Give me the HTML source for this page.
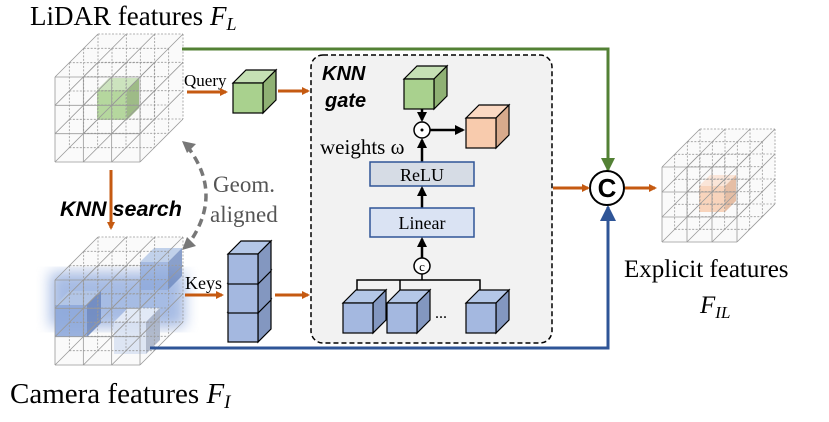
<!DOCTYPE html>
<html><head><meta charset="utf-8"><style>
html,body{margin:0;padding:0;background:#fff;}
svg{display:block;font-family:"Liberation Serif",serif;}
</style></head><body>
<svg id="s" width="829" height="422" viewBox="0 0 829 422" xmlns="http://www.w3.org/2000/svg">
<defs>
<marker id="ao" markerWidth="8" markerHeight="8" refX="6" refY="4" orient="auto" markerUnits="userSpaceOnUse"><path d="M0,0 L8,4 L0,8 z" fill="#c55a11"/></marker>
<marker id="ab" markerWidth="10" markerHeight="10" refX="8" refY="5" orient="auto" markerUnits="userSpaceOnUse"><path d="M0,0 L10,5 L0,10 z" fill="#000"/></marker>
<marker id="ag" markerWidth="14" markerHeight="14" refX="12" refY="7" orient="auto" markerUnits="userSpaceOnUse"><path d="M0,0 L14,7 L0,14 z" fill="#538135"/></marker>
<marker id="abl" markerWidth="16" markerHeight="16" refX="14" refY="8" orient="auto" markerUnits="userSpaceOnUse"><path d="M0,0 L16,8 L0,16 z" fill="#2f5597"/></marker>
<filter id="blur"><feGaussianBlur stdDeviation="7"/></filter>
</defs>
<g id="grids"></g>

<text x="30" y="25" font-size="27">LiDAR features <tspan font-style="italic">F</tspan><tspan font-style="italic" font-size="18" dy="5">L</tspan></text>
<text x="10" y="403" font-size="29">Camera features <tspan font-style="italic">F</tspan><tspan font-style="italic" font-size="19" dy="5">I</tspan></text>
<text x="624" y="277" font-size="25">Explicit features</text>
<text x="700" y="313" font-size="25" font-style="italic">F<tspan font-size="17" dy="5">IL</tspan></text>

<polyline points="182,49 608,49 608,170" fill="none" stroke="#538135" stroke-width="3" marker-end="url(#ag)"/>
<polyline points="150,348 608,348 608,207" fill="none" stroke="#2f5597" stroke-width="3" marker-end="url(#abl)"/>
<circle cx="607" cy="188" r="17" fill="#fff" stroke="#000" stroke-width="2"/>
<text x="607" y="197" font-size="26" text-anchor="middle" font-family="Liberation Sans,sans-serif" font-weight="bold">C</text>
<line x1="553" y1="188" x2="588" y2="188" stroke="#c55a11" stroke-width="3" marker-end="url(#ao)"/>
<line x1="625" y1="188" x2="655" y2="188" stroke="#c55a11" stroke-width="3" marker-end="url(#ao)"/>

<line x1="111" y1="170" x2="111" y2="228" stroke="#c55a11" stroke-width="3" marker-end="url(#ao)"/>
<text x="60" y="216" font-size="21.5" font-weight="bold" font-style="italic" font-family="Liberation Sans,sans-serif">KNN search</text>
<path d="M187,146 Q225,195 187,246" fill="none" stroke="#777" stroke-width="3.5" stroke-dasharray="8,5"/>
<path d="M182,141 l14,3 l-9,9z M182,250 l5,-13 l9,9z" fill="#777"/>
<text x="213" y="192" font-size="23" fill="#555">Geom.</text>
<text x="210" y="222" font-size="23" fill="#555">aligned</text>

<text x="184" y="86" font-size="17">Query</text>
<line x1="187" y1="92" x2="226" y2="92" stroke="#c55a11" stroke-width="3" marker-end="url(#ao)"/>
<g id="qc"></g>
<line x1="278" y1="91" x2="308" y2="91" stroke="#c55a11" stroke-width="3" marker-end="url(#ao)"/>

<text x="185" y="289" font-size="18">Keys</text>
<line x1="185" y1="295" x2="222" y2="295" stroke="#c55a11" stroke-width="3" marker-end="url(#ao)"/>
<line x1="275" y1="295" x2="308" y2="295" stroke="#c55a11" stroke-width="3" marker-end="url(#ao)"/>

<rect x="311" y="55" width="241" height="288" rx="12" fill="#f2f2f2" stroke="#000" stroke-width="1.5" stroke-dasharray="5,3"/>
<text x="322" y="80" font-size="20" font-weight="bold" font-style="italic" font-family="Liberation Sans,sans-serif">KNN</text>
<text x="325" y="107" font-size="20" font-weight="bold" font-style="italic" font-family="Liberation Sans,sans-serif">gate</text>
<line x1="422" y1="107" x2="422" y2="120" stroke="#000" stroke-width="2.5" marker-end="url(#ab)"/>
<circle cx="422" cy="130" r="8" fill="#fff" stroke="#000" stroke-width="1.5"/>
<circle cx="422" cy="130" r="1.5" fill="#000"/>
<line x1="430" y1="130" x2="463" y2="130" stroke="#000" stroke-width="2.5" marker-end="url(#ab)"/>
<text x="320" y="154" font-size="21">weights ω</text>
<line x1="422" y1="162" x2="422" y2="140" stroke="#000" stroke-width="2.5" marker-end="url(#ab)"/>
<rect x="370" y="162" width="104" height="24" fill="#d6dce5" stroke="#2f5597" stroke-width="1.5"/>
<text x="422" y="181" font-size="18" text-anchor="middle">ReLU</text>
<line x1="422" y1="208" x2="422" y2="188" stroke="#000" stroke-width="2.5" marker-end="url(#ab)"/>
<rect x="370" y="208" width="104" height="29" fill="#dae3f3" stroke="#2f5597" stroke-width="1.5"/>
<text x="422" y="229" font-size="18" text-anchor="middle">Linear</text>
<line x1="422" y1="258" x2="422" y2="239" stroke="#000" stroke-width="2.5" marker-end="url(#ab)"/>
<circle cx="422" cy="266" r="8" fill="#fff" stroke="#000" stroke-width="1.5"/>
<text x="422" y="271" font-size="13" text-anchor="middle">c</text>
<polyline points="357,292 357,280 480,280 480,292" fill="none" stroke="#000" stroke-width="1.5"/>
<line x1="400" y1="280" x2="400" y2="292" stroke="#000" stroke-width="1.5"/>
<line x1="422" y1="274" x2="422" y2="280" stroke="#000" stroke-width="1.5"/>
<text x="435" y="318" font-size="16">...</text>
<g id="cubes"></g>
</svg>
<script>
var NS="http://www.w3.org/2000/svg";
function el(p,t,a){var e=document.createElementNS(NS,t);for(var k in a)e.setAttribute(k,a[k]);p.appendChild(e);return e;}
function cube(p,x,y,s,d,f,fs,ft,sw,op){
 var g=el(p,'g',{opacity:op||1});
 el(g,'polygon',{points:[x,y,x+d,y-d,x+s+d,y-d,x+s,y].join(','),fill:ft,stroke:'#000','stroke-width':sw});
 el(g,'polygon',{points:[x+s,y,x+s+d,y-d,x+s+d,y+s-d,x+s,y+s].join(','),fill:fs,stroke:'#000','stroke-width':sw});
 el(g,'rect',{x:x,y:y,width:s,height:s,fill:f,stroke:'#000','stroke-width':sw});
}
function grid(p,x,y,S,D,inner){
 var g=el(p,'g',{fill:'none'});
 el(g,'polygon',{points:[x,y,x+D,y-D,x+S+D,y-D,x+S+D,y+S-D,x+S,y+S,x,y+S].join(','),fill:'#fafafa',stroke:'none'});
 if(inner)inner(g);
 var c=S/3,dd=D/3;
 for(var k=3;k>=0;k--){
  var ox=x+k*dd,oy=y-k*dd,dash=k==0?'none':'2,1.5';
  for(var i=0;i<=3;i++){
   el(g,'line',{x1:ox+i*c,y1:oy,x2:ox+i*c,y2:oy+S,stroke:'#999','stroke-width':0.8,'stroke-dasharray':dash});
   el(g,'line',{x1:ox,y1:oy+i*c,x2:ox+S,y2:oy+i*c,stroke:'#999','stroke-width':0.8,'stroke-dasharray':dash});
  }
 }
 for(var i=0;i<=3;i++)for(var j=0;j<=3;j++){
  el(g,'line',{x1:x+i*c,y1:y+j*c,x2:x+i*c+D,y2:y+j*c-D,stroke:'#999','stroke-width':0.8});
 }
}
var G=document.getElementById('grids');
grid(G,55,77,85,43,function(g){cube(g,97,90,30,12,'#a9d18e','#8fb174','#c5e0b4',0,0.85);});
grid(G,55,280,85,43,function(g){
 el(g,'rect',{x:50,y:272,width:135,height:55,fill:'#6f93d6',filter:'url(#blur)',opacity:0.6});
 cube(g,55,305,32,14,'#8faadc','#6f8ac0','#b4c7e7',0,0.9);
 cube(g,140,262,28,14,'#8faadc','#6f8ac0','#b4c7e7',0,0.8);
 cube(g,114,322,32,14,'#dae3f3','#aab4c8','#e8eef8',0,0.9);
});
grid(G,662,167,75,38,function(g){cube(g,699,186,26,11,'#f8cbad','#e0b090','#fbe0d0',0,0.8);});
var Q=document.getElementById('qc');
cube(Q,233,83,30,13,'#a9d18e','#8fb174','#c5e0b4',1.2);
var C=document.getElementById('cubes');
cube(C,228,312,30,13,'#a4b8e0','#8397c0','#b4c7e7',1.2);
cube(C,228,283,30,13,'#a4b8e0','#8397c0','#b4c7e7',1.2);
cube(C,228,254,30,13,'#a4b8e0','#8397c0','#b4c7e7',1.2);
cube(C,404,79,30,13,'#a9d18e','#8fb174','#c5e0b4',1.2);
cube(C,466,118,30,13,'#f8cbad','#d8aa8c','#fbd9c3',1.2);
cube(C,343,303,30,13,'#a4b8e0','#8397c0','#b4c7e7',1.2);
cube(C,387,303,30,13,'#a4b8e0','#8397c0','#b4c7e7',1.2);
cube(C,466,303,30,13,'#a4b8e0','#8397c0','#b4c7e7',1.2);
</script>
</body></html>
